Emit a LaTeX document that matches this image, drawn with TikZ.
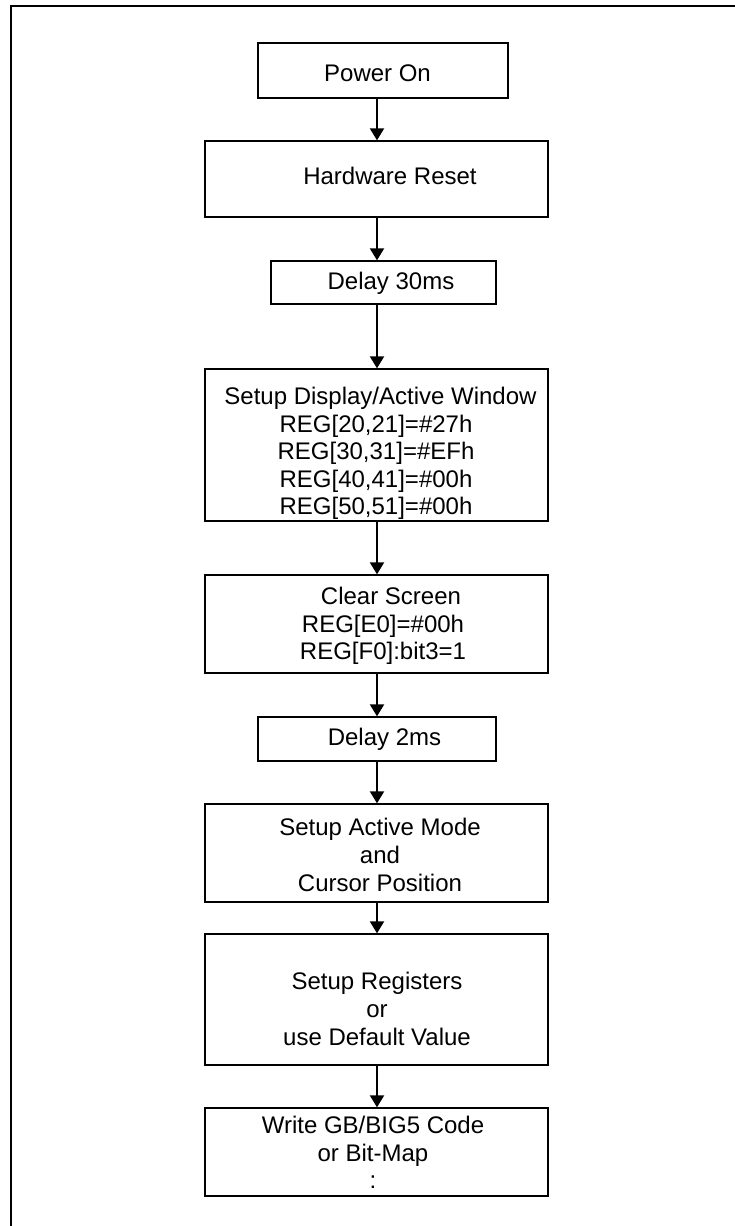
\documentclass[tikz,border=0pt]{standalone}
\usepackage{fontspec}
\setmainfont{Liberation Sans}
\usetikzlibrary{arrows.meta}
\begin{document}
\begin{tikzpicture}[x=1pt,y=-1pt,
  box/.style={draw, line width=1.3pt, inner sep=0pt},
  txt/.style={font=\fontsize{24}{27.6}\selectfont, align=center, inner sep=0pt},
  arr/.style={line width=2pt, -{Triangle[width=14pt,length=12pt]}},
  outline/.style={line width=2pt}]
\useasboundingbox (0,0) rectangle (735,1226);

% open frame: top and left edges only
\draw[outline] (11,1226) -- (11,6) -- (735,6);

% process boxes
\node[box, minimum width=250, minimum height=55]  (pwr)  at (383,70.5)   {};
\node[box, minimum width=343, minimum height=76]  (hw)   at (376.5,179)  {};
\node[box, minimum width=225, minimum height=43]  (d30)  at (383.5,282.5) {};
\node[box, minimum width=343, minimum height=152] (disp) at (376.5,445)  {};
\node[box, minimum width=343, minimum height=98]  (clr)  at (376.5,624)  {};
\node[box, minimum width=238, minimum height=44]  (d2)   at (377,739)    {};
\node[box, minimum width=343, minimum height=98]  (mode) at (376.5,853)  {};
\node[box, minimum width=343, minimum height=131] (regs) at (376.5,999.5) {};
\node[box, minimum width=343, minimum height=88]  (wr)   at (376.5,1152) {};

% box texts
\node[txt] (tpwr)  at (377.5,73.5) {Power On};
\node[txt] (thw)   at (390,175.5)  {Hardware Reset};
\node[txt] (td30)  at (391,283)    {Delay 30ms};
\node[txt] (tdisp) at (376,453.5)  {\hspace*{9pt}Setup Display/Active Window\\REG[20,21]=\#27h\\REG[30,31]=\#EFh\\REG[40,41]=\#00h\\REG[50,51]=\#00h};
\node[txt] (tclr)  at (383,626)    {\hspace*{16pt}Clear Screen\\REG[E0]=\#00h\\REG[F0]:bit3=1};
\node[txt] (td2)   at (384.5,739)  {Delay 2ms};
\node[txt] (tmode) at (380,855)    {Setup Active Mode\\and\\Cursor Position};
\node[txt] (tregs) at (377,1009)   {Setup Registers\\or\\use Default Value};
\node[txt] (twr)   at (373,1152.6) {Write GB/BIG5 Code\\or Bit-Map\\:};

% connectors along the common axis
\coordinate (ax) at (377,0);
\draw[arr] (pwr.south -| ax)  -- (hw.north -| ax);
\draw[arr] (hw.south -| ax)   -- (d30.north -| ax);
\draw[arr] (d30.south -| ax)  -- (disp.north -| ax);
\draw[arr] (disp.south -| ax) -- (clr.north -| ax);
\draw[arr] (clr.south -| ax)  -- (d2.north -| ax);
\draw[arr] (d2.south -| ax)   -- (mode.north -| ax);
\draw[arr] (mode.south -| ax) -- (regs.north -| ax);
\draw[arr] (regs.south -| ax) -- (wr.north -| ax);
\end{tikzpicture}
\end{document}
